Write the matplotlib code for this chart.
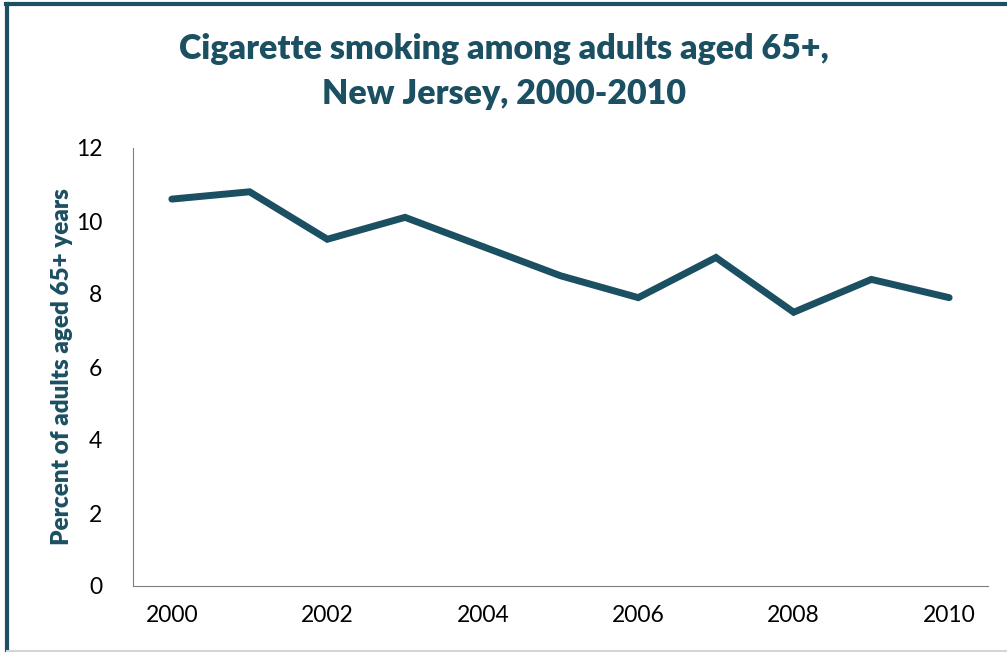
import matplotlib
matplotlib.use("Agg")
import matplotlib.pyplot as plt
from matplotlib.lines import Line2D

# data
years = [2000, 2001, 2002, 2003, 2004, 2005, 2006, 2007, 2008, 2009, 2010]
smoking_pct = [10.6, 10.8, 9.5, 10.1, 9.3, 8.5, 7.9, 9.0, 7.5, 8.4, 7.9]
x_ticks = [2000, 2002, 2004, 2006, 2008, 2010]
y_ticks = [0, 2, 4, 6, 8, 10, 12]

teal = '#1b4f62'
plt.rcParams['font.family'] = ['Lato', 'DejaVu Sans']

fig = plt.figure(figsize=(10.07, 6.52), dpi=100)
ax = fig.add_axes([133 / 1007, 1 - 586 / 652, (988 - 133) / 1007, (586 - 148) / 652])

ax.plot(years, smoking_pct, color=teal, linewidth=5, solid_capstyle='round', solid_joinstyle='miter')

ax.set_xlim(1999.5, 2010.5)
ax.set_ylim(0, 12)
ax.set_xticks(x_ticks)
ax.set_yticks(y_ticks)
ax.tick_params(axis='both', length=0, labelsize=16.5, colors='black')
ax.tick_params(axis='x', pad=14)
ax.tick_params(axis='y', pad=22)

for s in ['top', 'right']:
    ax.spines[s].set_visible(False)
ax.spines['left'].set_color('#7f7f7f')
ax.spines['bottom'].set_color('#7f7f7f')

ax.set_ylabel('Percent of adults aged 65+ years', fontsize=17.5, fontweight='heavy', color=teal, labelpad=2)

fig.text(0.5, 1 - 49 / 652, 'Cigarette smoking among adults aged 65+,', ha='center', va='center',
         fontsize=24.5, fontweight='heavy', color=teal)
fig.text(0.5, 1 - 94 / 652, 'New Jersey, 2000-2010', ha='center', va='center',
         fontsize=24.5, fontweight='heavy', color=teal)

# outer frame: thick teal left/top, thin grey bottom
fig.add_artist(Line2D([7 / 1007, 7 / 1007], [0, 1 - 3.5 / 652], transform=fig.transFigure, color=teal, linewidth=3))
fig.add_artist(Line2D([5.5 / 1007, 1], [1 - 3.5 / 652, 1 - 3.5 / 652], transform=fig.transFigure, color=teal, linewidth=3))
fig.add_artist(Line2D([7 / 1007, 1], [1.5 / 652, 1.5 / 652], transform=fig.transFigure, color='#d0d7dc', linewidth=1.5))

fig.savefig('out.png', dpi=100)
